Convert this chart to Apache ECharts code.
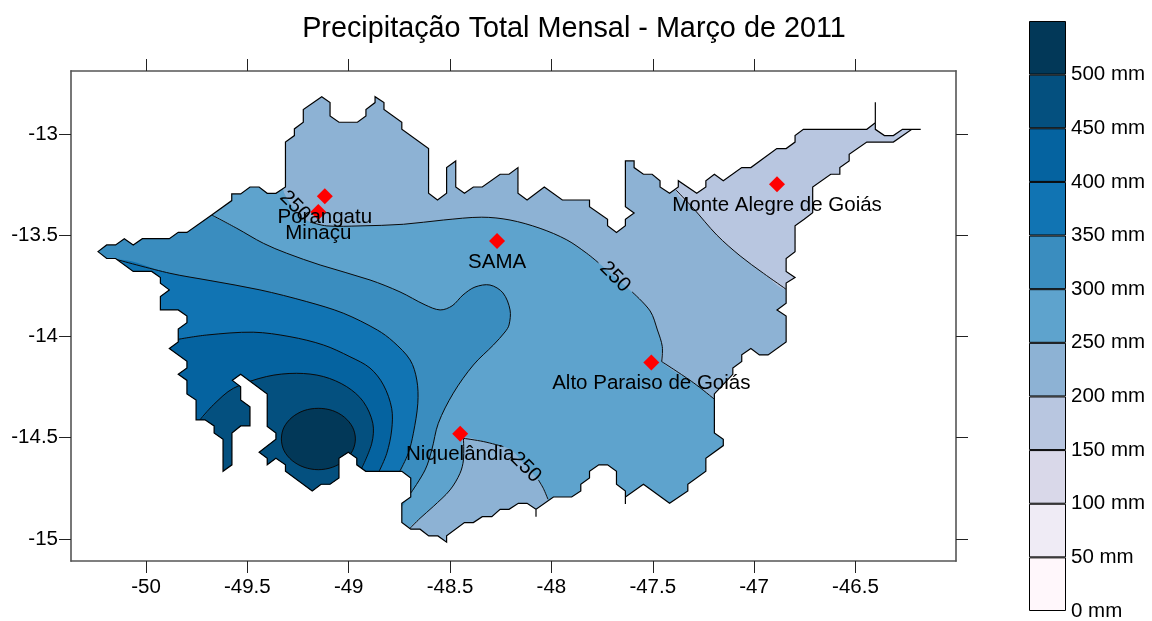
<!DOCTYPE html>
<html>
<head>
<meta charset="utf-8">
<title>Precipitação Total Mensal</title>
<script src="https://cdn.jsdelivr.net/npm/echarts@6/dist/echarts.min.js"></script>
<style>
html, body { margin: 0; padding: 0; background: #fff; }
#chart { width: 1152px; height: 621px; }
</style>
</head>
<body>
<div id="chart"></div>
<script>
var xTicks = [-50, -49.5, -49, -48.5, -48, -47.5, -47, -46.5];
var yTicks = [-15, -14.5, -14, -13.5, -13];
var scaleLevels = [0, 50, 100, 150, 200, 250, 300, 350, 400, 450, 500];
var scaleStep = [50, 50, 50, 50, 50, 50, 50, 50, 50, 50, 50];
var scaleColors = ['#fff7fb', '#efebf5', '#d9d8e9', '#b8c6e0', '#8db2d4', '#5ea3cd', '#3a8dbf', '#1174b3', '#0563a0', '#04507f', '#023858'];

var stationNames = ['Porangatu', 'Minaçu', 'SAMA', 'Monte Alegre de Goiás', 'Alto Paraiso de Goiás', 'Niquelândia'];
var stationLon = [-49.118, -49.150, -48.268, -46.887, -47.507, -48.450];
var stationLat = [-13.308, -13.385, -13.528, -13.248, -14.129, -14.480];

var contourLabelLon = [-49.265, -47.686, -48.127];
var contourLabelLat = [-13.356, -13.706, -14.646];
var contourLabelText = ['250', '250', '250'];

// municipality outline, spikes included
var boundary = [
[-50.237,-13.581],[-50.194,-13.548],[-50.150,-13.548],[-50.107,-13.517],[-50.063,-13.548],[-50.018,-13.517],
[-49.885,-13.517],[-49.841,-13.486],[-49.798,-13.486],[-49.676,-13.400],[-49.577,-13.329],[-49.577,-13.296],
[-49.533,-13.296],[-49.487,-13.262],[-49.442,-13.262],[-49.402,-13.293],[-49.359,-13.293],[-49.312,-13.262],
[-49.312,-13.040],[-49.268,-13.008],[-49.268,-12.975],[-49.224,-12.942],[-49.224,-12.879],[-49.133,-12.816],
[-49.092,-12.845],[-49.092,-12.911],[-49.048,-12.942],[-48.957,-12.942],[-48.915,-12.911],[-48.915,-12.879],
[-48.870,-12.845],[-48.870,-12.816],[-48.826,-12.845],[-48.826,-12.879],[-48.738,-12.942],[-48.738,-12.977],
[-48.606,-13.072],[-48.606,-13.293],[-48.562,-13.326],[-48.517,-13.293],[-48.517,-13.166],[-48.472,-13.133],
[-48.472,-13.262],[-48.429,-13.293],[-48.385,-13.262],[-48.341,-13.262],[-48.253,-13.199],[-48.209,-13.199],
[-48.165,-13.166],[-48.165,-13.293],[-48.120,-13.326],[-48.035,-13.262],[-47.946,-13.326],[-47.812,-13.326],
[-47.812,-13.359],[-47.723,-13.421],[-47.723,-13.453],[-47.679,-13.486],[-47.635,-13.453],[-47.635,-13.421],
[-47.592,-13.390],[-47.635,-13.359],[-47.635,-13.133],[-47.592,-13.133],[-47.592,-13.166],[-47.546,-13.199],
[-47.503,-13.199],[-47.464,-13.231],[-47.464,-13.262],[-47.417,-13.293],[-47.374,-13.262],[-47.374,-13.231],
[-47.283,-13.293],[-47.238,-13.262],[-47.238,-13.231],[-47.196,-13.199],[-47.152,-13.231],[-47.061,-13.166],
[-47.016,-13.166],[-46.888,-13.072],[-46.842,-13.072],[-46.798,-13.040],[-46.798,-13.008],[-46.757,-12.977],
[-46.444,-12.977],[-46.402,-12.944],[-46.402,-12.843],[-46.402,-12.977],[-46.357,-13.008],[-46.313,-13.008],
[-46.268,-12.977],[-46.178,-12.977],[-46.222,-12.977],[-46.313,-13.040],[-46.444,-13.040],[-46.531,-13.100],
[-46.531,-13.133],[-46.577,-13.166],[-46.577,-13.199],[-46.622,-13.199],[-46.711,-13.262],[-46.711,-13.389],
[-46.753,-13.421],[-46.798,-13.453],[-46.798,-13.581],[-46.842,-13.615],[-46.842,-13.679],[-46.798,-13.709],
[-46.842,-13.736],[-46.842,-13.836],[-46.887,-13.869],[-46.842,-13.899],[-46.842,-14.027],[-46.931,-14.091],
[-46.974,-14.091],[-47.016,-14.060],[-47.061,-14.091],[-47.061,-14.123],[-47.105,-14.156],[-47.105,-14.187],
[-47.196,-14.284],[-47.196,-14.477],[-47.152,-14.508],[-47.152,-14.539],[-47.238,-14.602],[-47.238,-14.666],
[-47.327,-14.730],[-47.327,-14.763],[-47.417,-14.824],[-47.546,-14.730],[-47.635,-14.793],[-47.635,-14.827],
[-47.635,-14.763],[-47.679,-14.730],[-47.679,-14.666],[-47.723,-14.634],[-47.766,-14.634],[-47.812,-14.666],
[-47.812,-14.699],[-47.855,-14.730],[-47.855,-14.763],[-47.900,-14.793],[-47.990,-14.793],[-48.076,-14.854],
[-48.076,-14.890],[-48.076,-14.854],[-48.120,-14.824],[-48.163,-14.824],[-48.209,-14.854],[-48.253,-14.854],
[-48.294,-14.890],[-48.341,-14.890],[-48.385,-14.919],[-48.429,-14.919],[-48.517,-14.985],[-48.517,-15.016],
[-48.560,-14.985],[-48.605,-14.985],[-48.648,-14.952],[-48.694,-14.952],[-48.738,-14.919],[-48.738,-14.824],
[-48.694,-14.793],[-48.694,-14.699],[-48.738,-14.666],[-48.916,-14.666],[-48.960,-14.634],[-48.960,-14.602],
[-49.002,-14.572],[-49.048,-14.602],[-49.048,-14.699],[-49.092,-14.730],[-49.136,-14.730],[-49.180,-14.763],
[-49.312,-14.666],[-49.312,-14.634],[-49.359,-14.602],[-49.402,-14.634],[-49.402,-14.602],[-49.442,-14.572],
[-49.359,-14.508],[-49.359,-14.477],[-49.402,-14.444],[-49.402,-14.284],[-49.533,-14.187],[-49.574,-14.217],
[-49.533,-14.249],[-49.533,-14.314],[-49.487,-14.347],[-49.487,-14.442],[-49.533,-14.442],[-49.576,-14.477],
[-49.576,-14.634],[-49.620,-14.666],[-49.620,-14.508],[-49.664,-14.477],[-49.664,-14.442],[-49.709,-14.412],
[-49.753,-14.412],[-49.753,-14.314],[-49.798,-14.284],[-49.798,-14.217],[-49.841,-14.187],[-49.798,-14.156],
[-49.798,-14.123],[-49.885,-14.060],[-49.841,-14.027],[-49.841,-13.963],[-49.798,-13.932],[-49.798,-13.899],
[-49.841,-13.869],[-49.929,-13.869],[-49.929,-13.803],[-49.885,-13.770],[-49.929,-13.737],[-49.929,-13.709],
[-49.972,-13.679],[-50.063,-13.679],[-50.150,-13.615],[-50.194,-13.615]
];

// contour lines. the 250 ones have gaps where their labels sit
var c200 = [[-47.385,-13.277],[-47.300,-13.367],[-47.184,-13.499],[-47.069,-13.602],[-46.954,-13.688],[-46.842,-13.767]];
var c250Head = [[-49.324,-13.272],[-49.290,-13.341],[-49.240,-13.400]];
var c250A = [[-49.191,-13.435],[-49.108,-13.454],[-48.944,-13.454],[-48.730,-13.446],[-48.533,-13.425],[-48.344,-13.411],
  [-48.204,-13.425],[-48.056,-13.466],[-47.924,-13.523],[-47.826,-13.589],[-47.768,-13.636]];
var c250Gap = [[-47.686,-13.706]];
var c250B = [[-47.602,-13.780],[-47.513,-13.874],[-47.477,-13.968],[-47.453,-14.050],[-47.456,-14.124]];
var c250C = [[-47.456,-14.124],[-47.300,-14.228],[-47.196,-14.310]];
var c250LobeA = [[-48.701,-14.951],[-48.648,-14.898],[-48.583,-14.840],[-48.500,-14.758],[-48.451,-14.676],[-48.434,-14.610],[-48.434,-14.503]];
var c250LobeB = [[-48.434,-14.503],[-48.336,-14.519],[-48.237,-14.544]];
var c250LobeGap = [[-48.188,-14.569],[-48.122,-14.643]];
var c250LobeC = [[-48.064,-14.709],[-48.040,-14.750],[-48.017,-14.804]];
var c300 = [[-49.676,-13.400],[-49.552,-13.466],[-49.421,-13.540],[-49.306,-13.589],[-49.141,-13.647],[-48.895,-13.721],
  [-48.747,-13.780],[-48.623,-13.844],[-48.549,-13.869],[-48.490,-13.849],[-48.436,-13.795],[-48.377,-13.756],[-48.303,-13.746],
  [-48.239,-13.785],[-48.204,-13.869],[-48.209,-13.943],[-48.229,-13.978],[-48.286,-14.042],[-48.385,-14.141],[-48.484,-14.280],
  [-48.558,-14.429],[-48.590,-14.560],[-48.623,-14.659],[-48.694,-14.774]];
var c350 = [[-50.145,-13.620],[-49.882,-13.688],[-49.684,-13.724],[-49.438,-13.770],[-49.207,-13.828],[-49.027,-13.885],
  [-48.859,-13.968],[-48.780,-14.026],[-48.697,-14.116],[-48.664,-14.215],[-48.659,-14.330],[-48.681,-14.478],[-48.706,-14.577],[-48.747,-14.664]];
var c400 = [[-49.841,-14.014],[-49.701,-13.993],[-49.471,-13.979],[-49.290,-14.001],[-49.125,-14.042],[-48.994,-14.100],
  [-48.895,-14.156],[-48.829,-14.239],[-48.788,-14.355],[-48.788,-14.462],[-48.812,-14.577],[-48.849,-14.664]];
var c450 = [[-49.734,-14.412],[-49.668,-14.338],[-49.569,-14.256],[-49.405,-14.198],[-49.257,-14.182],[-49.125,-14.198],
  [-49.010,-14.248],[-48.928,-14.322],[-48.881,-14.429],[-48.886,-14.527],[-48.936,-14.651]];
var c500 = [[-48.967,-14.506],[-48.981,-14.448],[-49.021,-14.399],[-49.080,-14.366],[-49.150,-14.355],[-49.220,-14.366],
  [-49.279,-14.399],[-49.319,-14.448],[-49.332,-14.506],[-49.319,-14.564],[-49.279,-14.613],[-49.220,-14.646],[-49.150,-14.658],
  [-49.080,-14.646],[-49.021,-14.613],[-48.981,-14.564]];

var c250All = [].concat(c250Head, c250A, c250Gap, c250B, c250C.slice(1));
var lobeAll = [].concat(c250LobeA, c250LobeB.slice(1), c250LobeGap, c250LobeC);

var curve = 0.33;

// painted in this order, everything gets clipped to the outline
var regions = [
  { pts: boundary, color: scaleColors[4], smooth: 0 },
  { pts: c200.concat([[-46.10,-13.80],[-46.10,-12.75],[-47.39,-12.75]]), color: scaleColors[3], smooth: curve },
  { pts: c250All.concat([[-46.97,-14.46],[-46.97,-15.10],[-50.35,-15.10],[-50.35,-13.10],[-49.33,-13.10]]), color: scaleColors[5], smooth: curve },
  { pts: lobeAll.concat([[-48.00,-14.95],[-48.72,-15.05]]), color: scaleColors[4], smooth: curve },
  { pts: c300.concat([[-48.76,-14.85],[-50.35,-14.85],[-50.35,-13.35],[-49.70,-13.35]]), color: scaleColors[6], smooth: curve },
  { pts: c350.concat([[-48.77,-14.80],[-50.30,-14.80],[-50.30,-13.70]]), color: scaleColors[7], smooth: curve },
  { pts: c400.concat([[-48.87,-14.80],[-50.00,-14.80],[-50.00,-14.02]]), color: scaleColors[8], smooth: curve },
  { pts: c450.concat([[-48.95,-14.80],[-49.80,-14.80],[-49.80,-14.42]]), color: scaleColors[9], smooth: curve },
  { pts: c500, color: scaleColors[10], smooth: curve }
];
var contourLines = [c200, c250A, c250B, c250C, c250LobeA, c250LobeB, c250LobeC, c300, c350, c400, c450, c500];

var font = '"Liberation Sans", Arial, sans-serif';
var labelSize = 20.5;

function toPixels(pts, api) {
  return pts.map(function (p) { return api.coord(p); });
}

var chart = echarts.init(document.getElementById('chart'));

var scaleSeries = scaleStep.map(function (v, i) {
  return {
    type: 'bar',
    stack: 'scale',
    xAxisIndex: 2,
    yAxisIndex: 2,
    barWidth: '100%',
    data: [v],
    itemStyle: { color: scaleColors[i], borderColor: '#000', borderWidth: 1 },
    silent: true
  };
});

var option = {
  animation: false,
  textStyle: { fontFamily: font },
  title: {
    text: 'Precipitação Total Mensal - Março de 2011',
    left: 569,
    top: 10,
    textAlign: 'center',
    textStyle: { fontFamily: font, fontSize: 28.8, fontWeight: 'normal', color: '#000' }
  },
  grid: [
    { left: 71, top: 71, width: 885, height: 490, outerBoundsMode: 'none' },
    { left: 1029, top: 21, width: 37, height: 590, outerBoundsMode: 'none' }
  ],
  xAxis: [
    {
      gridIndex: 0, type: 'value', min: -50.370, max: -46.004, position: 'bottom',
      splitLine: { show: false },
      axisLine: { onZero: false, lineStyle: { color: '#555', width: 1.5 } },
      axisTick: { length: 12, lineStyle: { color: '#222' }, customValues: xTicks },
      axisLabel: { margin: 16, fontSize: labelSize, color: '#000', customValues: xTicks }
    },
    {
      gridIndex: 0, type: 'value', min: -50.370, max: -46.004, position: 'top',
      splitLine: { show: false },
      axisLine: { onZero: false, lineStyle: { color: '#555', width: 1.5 } },
      axisTick: { length: 12, lineStyle: { color: '#222' }, customValues: xTicks },
      axisLabel: { show: false }
    },
    { gridIndex: 1, type: 'category', data: ['mm'], show: false }
  ],
  yAxis: [
    {
      gridIndex: 0, type: 'value', min: -15.109, max: -12.689, position: 'left',
      splitLine: { show: false },
      axisLine: { onZero: false, lineStyle: { color: '#777', width: 2 } },
      axisTick: { length: 12, lineStyle: { color: '#222' }, customValues: yTicks },
      axisLabel: { margin: 13, fontSize: labelSize, color: '#000', customValues: yTicks }
    },
    {
      gridIndex: 0, type: 'value', min: -15.109, max: -12.689, position: 'right',
      splitLine: { show: false },
      axisLine: { onZero: false, lineStyle: { color: '#777', width: 2 } },
      axisTick: { length: 12, lineStyle: { color: '#222' }, customValues: yTicks },
      axisLabel: { show: false }
    },
    {
      gridIndex: 1, type: 'value', min: 0, max: 550, position: 'right',
      splitLine: { show: false },
      axisLine: { show: false },
      axisTick: { show: false },
      axisLabel: { margin: 5, fontSize: labelSize, color: '#000', padding: [4, 0, 0, 0], formatter: '{value} mm', customValues: scaleLevels }
    }
  ],
  series: [
    {
      type: 'custom',
      xAxisIndex: 0,
      yAxisIndex: 0,
      silent: true,
      z: 2,
      data: regions.map(function (r) { return r.pts[0]; }),
      renderItem: function (params, api) {
        var r = regions[params.dataIndex];
        return {
          type: 'polygon',
          shape: { points: toPixels(r.pts, api), smooth: r.smooth },
          style: { fill: r.color, stroke: null },
          clipPath: { type: 'polygon', shape: { points: toPixels(boundary, api) } }
        };
      }
    },
    {
      type: 'custom',
      xAxisIndex: 0,
      yAxisIndex: 0,
      silent: true,
      z: 3,
      data: contourLines.map(function (c) { return c[0]; }),
      renderItem: function (params, api) {
        var line = contourLines[params.dataIndex];
        return {
          type: line === c500 ? 'polygon' : 'polyline',
          shape: { points: toPixels(line, api), smooth: curve },
          style: { fill: null, stroke: '#0a0a0a', lineWidth: 1 },
          clipPath: { type: 'polygon', shape: { points: toPixels(boundary, api) } }
        };
      }
    },
    {
      type: 'custom',
      xAxisIndex: 0,
      yAxisIndex: 0,
      silent: true,
      z: 4,
      data: [boundary[0]],
      renderItem: function (params, api) {
        return {
          type: 'polygon',
          shape: { points: toPixels(boundary, api) },
          style: { fill: null, stroke: '#000', lineWidth: 1.2 }
        };
      }
    },
    {
      type: 'scatter',
      xAxisIndex: 0,
      yAxisIndex: 0,
      silent: true,
      z: 5,
      symbolSize: 1,
      itemStyle: { color: 'rgba(0,0,0,0)', opacity: 1 },
      data: contourLabelText.map(function (t, i) {
        return {
          value: [contourLabelLon[i], contourLabelLat[i]],
          name: t,
          label: { show: true, position: 'inside', rotate: -45, formatter: '{b}', fontSize: labelSize, color: '#000', opacity: 1 }
        };
      })
    },
    {
      type: 'scatter',
      xAxisIndex: 0,
      yAxisIndex: 0,
      silent: true,
      z: 6,
      symbol: 'diamond',
      symbolSize: 16,
      itemStyle: { color: '#ff0000', opacity: 1 },
      label: { show: true, position: 'inside', offset: [0, 21], formatter: '{b}', fontSize: labelSize, color: '#000', opacity: 1 },
      data: stationNames.map(function (n, i) {
        return { value: [stationLon[i], stationLat[i]], name: n };
      })
    }
  ].concat(scaleSeries)
};

chart.setOption(option);
</script>
</body>
</html>
